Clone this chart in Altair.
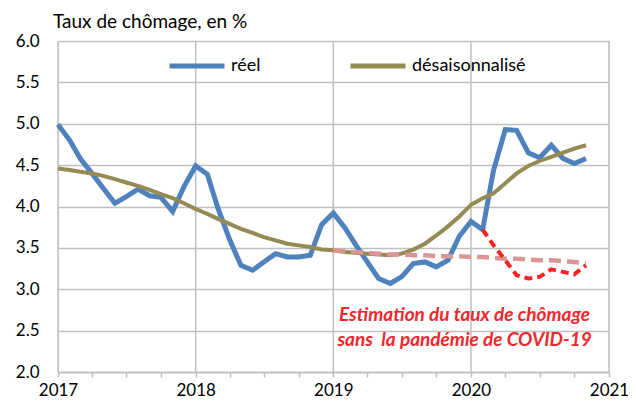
import altair as alt
import pandas as pd

# ---- data ----
months = [f"{y}-{m:02d}" for y in (2017, 2018, 2019, 2020) for m in range(1, 13)][:47]

reel = [4.99, 4.80, 4.58, 4.40, 4.22, 4.04, 4.12, 4.21, 4.13, 4.11, 3.94, 4.24,
        4.49, 4.39, 3.98, 3.60, 3.29, 3.23, 3.33, 3.43, 3.39, 3.39, 3.41, 3.78,
        3.92, 3.74, 3.54, 3.33, 3.13, 3.07, 3.15, 3.31, 3.33, 3.27, 3.35, 3.64,
        3.82, 3.72, 4.44, 4.93, 4.92, 4.65, 4.59, 4.74, 4.58, 4.52, 4.58]

desais = [4.46, 4.44, 4.42, 4.40, 4.37, 4.33, 4.29, 4.25, 4.20, 4.15, 4.10, 4.04,
          3.97, 3.91, 3.85, 3.79, 3.73, 3.68, 3.63, 3.59, 3.55, 3.53, 3.51, 3.48,
          3.47, 3.45, 3.44, 3.43, 3.42, 3.41, 3.43, 3.48, 3.55, 3.65, 3.76, 3.88,
          4.02, 4.10, 4.16, 4.28, 4.40, 4.49, 4.55, 4.60, 4.65, 4.70, 4.74]

trend_months = months[24:]
trend = [3.47, 3.46, 3.45, 3.44, 3.43, 3.42, 3.42, 3.41, 3.41, 3.40, 3.40, 3.40,
         3.39, 3.39, 3.38, 3.37, 3.37, 3.36, 3.35, 3.35, 3.34, 3.33, 3.31]

covid_months = months[37:]
covid = [3.72, 3.53, 3.35, 3.17, 3.13, 3.15, 3.24, 3.21, 3.18, 3.29]

years = ["2017-01", "2018-01", "2019-01", "2020-01", "2021-01"]
series_names = ["réel", "désaisonnalisé"]
series_colors = ["#4F81BD", "#948A54"]
y_ticks = [2.0, 2.5, 3.0, 3.5, 4.0, 4.5, 5.0, 5.5, 6.0]
note = "Estimation du taux de chômage\nsans \u00a0la pandémie de COVID-19"

# ---- tables ----
df_reel = pd.DataFrame({"date": months, "v": reel, "series": "réel"})
df_des = pd.DataFrame({"date": months, "v": desais, "series": "désaisonnalisé"})
df_trend = pd.DataFrame({"date": trend_months, "v": trend})
df_covid = pd.DataFrame({"date": covid_months, "v": covid})
df_years = pd.DataFrame({"date": years})
df_note = pd.DataFrame({"date": ["2019-12-15"], "v": [2.69], "label": [note]})

FONT = "Lato"
GRID = "#BFBFBF"

quarters = [alt.DateTime(year=y, month=m, date=1, utc=True)
            for y in (2017, 2018, 2019, 2020) for m in (1, 4, 7, 10)]
quarters.append(alt.DateTime(year=2021, month=1, date=1, utc=True))

xscale = alt.Scale(type="utc",
                   domain=[alt.DateTime(year=2017, month=1, date=1, utc=True),
                           alt.DateTime(year=2021, month=1, date=1, utc=True)])
yscale = alt.Scale(domain=[2, 6], nice=False, zero=False)

xaxis = alt.Axis(values=quarters, grid=False, title=None,
                 labelExpr="utcmonth(datum.value) == 0 ? utcFormat(datum.value, '%Y') : ''",
                 tickSize=5, tickColor=GRID, tickWidth=1.5,
                 domainColor=GRID, domainWidth=1.5,
                 labelFont=FONT, labelFontSize=17, labelColor="black",
                 labelPadding=5, labelOverlap=False, labelFlush=False)
yaxis = alt.Axis(values=y_ticks, format=".1f", grid=True, gridColor=GRID, gridWidth=1.5,
                 ticks=False, domain=False, title=None,
                 labelFont=FONT, labelFontSize=17, labelColor="black", labelPadding=19)

X = alt.X("date:T", scale=xscale, axis=xaxis)
Y = alt.Y("v:Q", scale=yscale, axis=yaxis)

color = alt.Color("series:N",
                  scale=alt.Scale(domain=series_names, range=series_colors),
                  legend=alt.Legend(orient="none", legendX=109, legendY=-5,
                                    direction="horizontal", title=None,
                                    symbolType="stroke", symbolSize=3025,
                                    symbolStrokeWidth=5, labelFont=FONT,
                                    labelFontSize=18, labelColor="black",
                                    labelOffset=4, columnPadding=79))

grid_v = alt.Chart(df_years).mark_rule(color=GRID, strokeWidth=1.5).encode(
    x=alt.X("date:T", scale=xscale, axis=xaxis))

line_reel = alt.Chart(df_reel).mark_line(strokeWidth=5).encode(x=X, y=Y, color=color)
line_des = alt.Chart(df_des).mark_line(strokeWidth=4).encode(x=X, y=Y, color=color)
line_trend = alt.Chart(df_trend).mark_line(strokeWidth=4.5, color="#D99694",
                                           strokeDash=[12, 6]).encode(x=X, y=Y)
line_covid = alt.Chart(df_covid).mark_line(strokeWidth=4, color="#FF2020",
                                           strokeDash=[8, 5]).encode(x=X, y=Y)
text = alt.Chart(df_note).mark_text(font=FONT, fontSize=19, fontWeight="bold",
                                    fontStyle="italic", color="#F0282D",
                                    lineBreak="\n", lineHeight=25, align="center",
                                    baseline="middle").encode(x=X, y=Y, text="label:N")

chart = alt.layer(grid_v, line_reel, line_des, line_trend, line_covid, text).properties(
    width=551, height=331,
    title=alt.TitleParams("Taux de chômage, en %", anchor="start", frame="group",
                          font=FONT, fontSize=19, fontWeight="normal", color="black",
                          dx=-5, dy=8, offset=8),
    autosize=alt.AutoSizeParams(type="none"),
    padding={"left": 50, "top": 33, "right": 19, "bottom": 26},
).configure_view(stroke=None).configure(background="white")

chart.save("out.html", embed_options={"renderer": "svg", "actions": False})
